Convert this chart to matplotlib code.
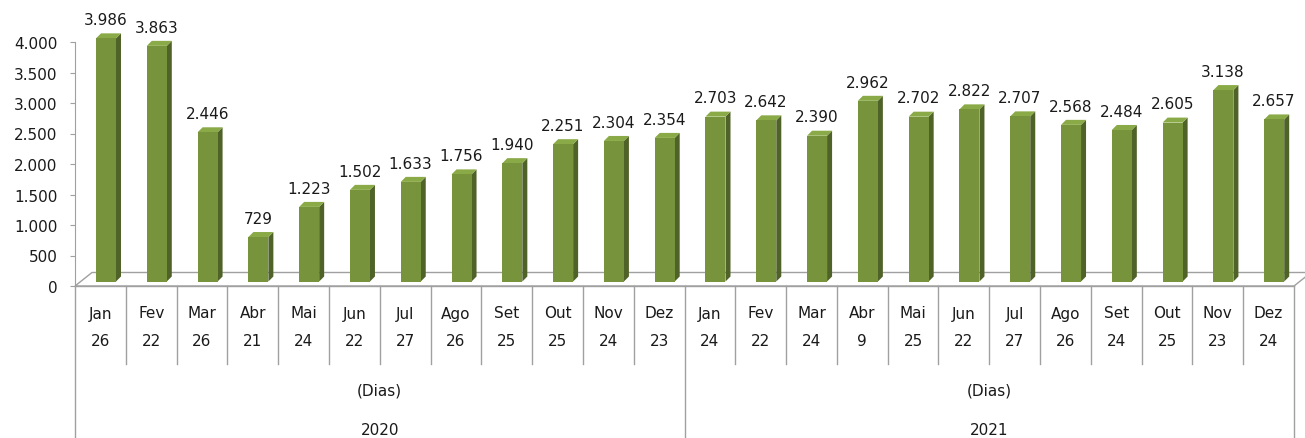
import matplotlib.pyplot as plt
from matplotlib.patches import Polygon

months = ["Jan", "Fev", "Mar", "Abr", "Mai", "Jun", "Jul", "Ago", "Set", "Out", "Nov", "Dez"]
years = ["2020", "2021"]
values_2020 = [3986, 3863, 2446, 729, 1223, 1502, 1633, 1756, 1940, 2251, 2304, 2354]
values_2021 = [2703, 2642, 2390, 2962, 2702, 2822, 2707, 2568, 2484, 2605, 3138, 2657]
dias_2020 = [26, 22, 26, 21, 24, 22, 27, 26, 25, 25, 24, 23]
dias_2021 = [24, 22, 24, 9, 25, 22, 27, 26, 24, 25, 23, 24]

values = values_2020 + values_2021
dias = dias_2020 + dias_2021
labels = months * 2
n = len(values)

FRONT = "#77933C"
SIDE = "#4F6228"
TOP = "#89AA46"
GRID = "#A0A0A0"
TXT = "#1A1A1A"

W, H = 1305, 439
fig = plt.figure(figsize=(W / 100, H / 100), dpi=100)
# axes box in pixels: x 75..1294, y 43..287 (from top)
ax = fig.add_axes([75 / W, (H - 287) / H, 1219 / W, 244 / H])
ax.set_xlim(0, n)
ax.set_ylim(0, 4000)

# pixel -> data unit factors
ux = 1219 / n
uy = 244 / 4000

# floor (3D base)
fdx, fdy = 17 / ux, 13.5 / uy
floor = Polygon([(0, 0), (n, 0), (n + fdx, fdy), (fdx, fdy)], closed=True,
                facecolor="none", edgecolor=GRID, lw=1, clip_on=False, zorder=1)
ax.add_patch(floor)

# bars drawn as front / side / top faces
bw = 20 / ux
sx, sy = 5.6 / ux, 4.5 / uy      # front face shift into depth
dx, dy = 5 / ux, 5 / uy          # bar depth
for i, v in enumerate(values):
    x0 = i + 0.5 + sx - bw / 2
    x1 = x0 + bw
    y0 = sy
    y1 = v + sy
    ax.add_patch(Polygon([(x1, y0), (x1 + dx, y0 + dy), (x1 + dx, y1 + dy), (x1, y1)],
                         closed=True, facecolor=SIDE, edgecolor="none", clip_on=False, zorder=3))
    ax.add_patch(Polygon([(x0, y1), (x1, y1), (x1 + dx, y1 + dy), (x0 + dx, y1 + dy)],
                         closed=True, facecolor=TOP, edgecolor="none", clip_on=False, zorder=3))
    ax.add_patch(Polygon([(x0, y0), (x1, y0), (x1, y1), (x0, y1)],
                         closed=True, facecolor=FRONT, edgecolor="none", clip_on=False, zorder=4))
    ax.annotate(f"{v:,}".replace(",", "."), (i + 0.5, v), xytext=(3.8, 13.5),
                textcoords="offset points", ha="center", va="baseline",
                fontsize=11, color=TXT, annotation_clip=False)

# axes styling
for s in ["top", "right", "bottom"]:
    ax.spines[s].set_visible(False)
ax.spines["left"].set_color(GRID)
ax.set_xticks([])
ax.set_yticks(range(0, 4001, 500))
ax.set_yticklabels([f"{t:,}".replace(",", ".") for t in range(0, 4001, 500)])
ax.tick_params(axis="y", length=3.6, color=GRID, pad=9, labelsize=11, labelcolor=TXT)

# multi-level category axis below the plot
tr = ax.get_xaxis_transform()
def fy(p):
    return (287 - p) / 244

ax.plot([0, n], [0, 0], transform=tr, color=GRID, lw=1, clip_on=False)
for k in range(n + 1):
    bottom = fy(439) if k % 12 == 0 else fy(365)
    ax.plot([k, k], [0, bottom], transform=tr, color=GRID, lw=1, clip_on=False)
for i in range(n):
    ax.text(i + 0.5, fy(314), labels[i], transform=tr, ha="center", va="center",
            fontsize=11, color=TXT)
    ax.text(i + 0.5, fy(342), str(dias[i]), transform=tr, ha="center", va="center",
            fontsize=11, color=TXT)
for j, yr in enumerate(years):
    c = j * 12 + 6
    ax.text(c, fy(391), "(Dias)", transform=tr, ha="center", va="center",
            fontsize=11, color=TXT)
    ax.text(c, fy(431), yr, transform=tr, ha="center", va="center",
            fontsize=11, color=TXT)

plt.savefig("out.png", dpi=100)
